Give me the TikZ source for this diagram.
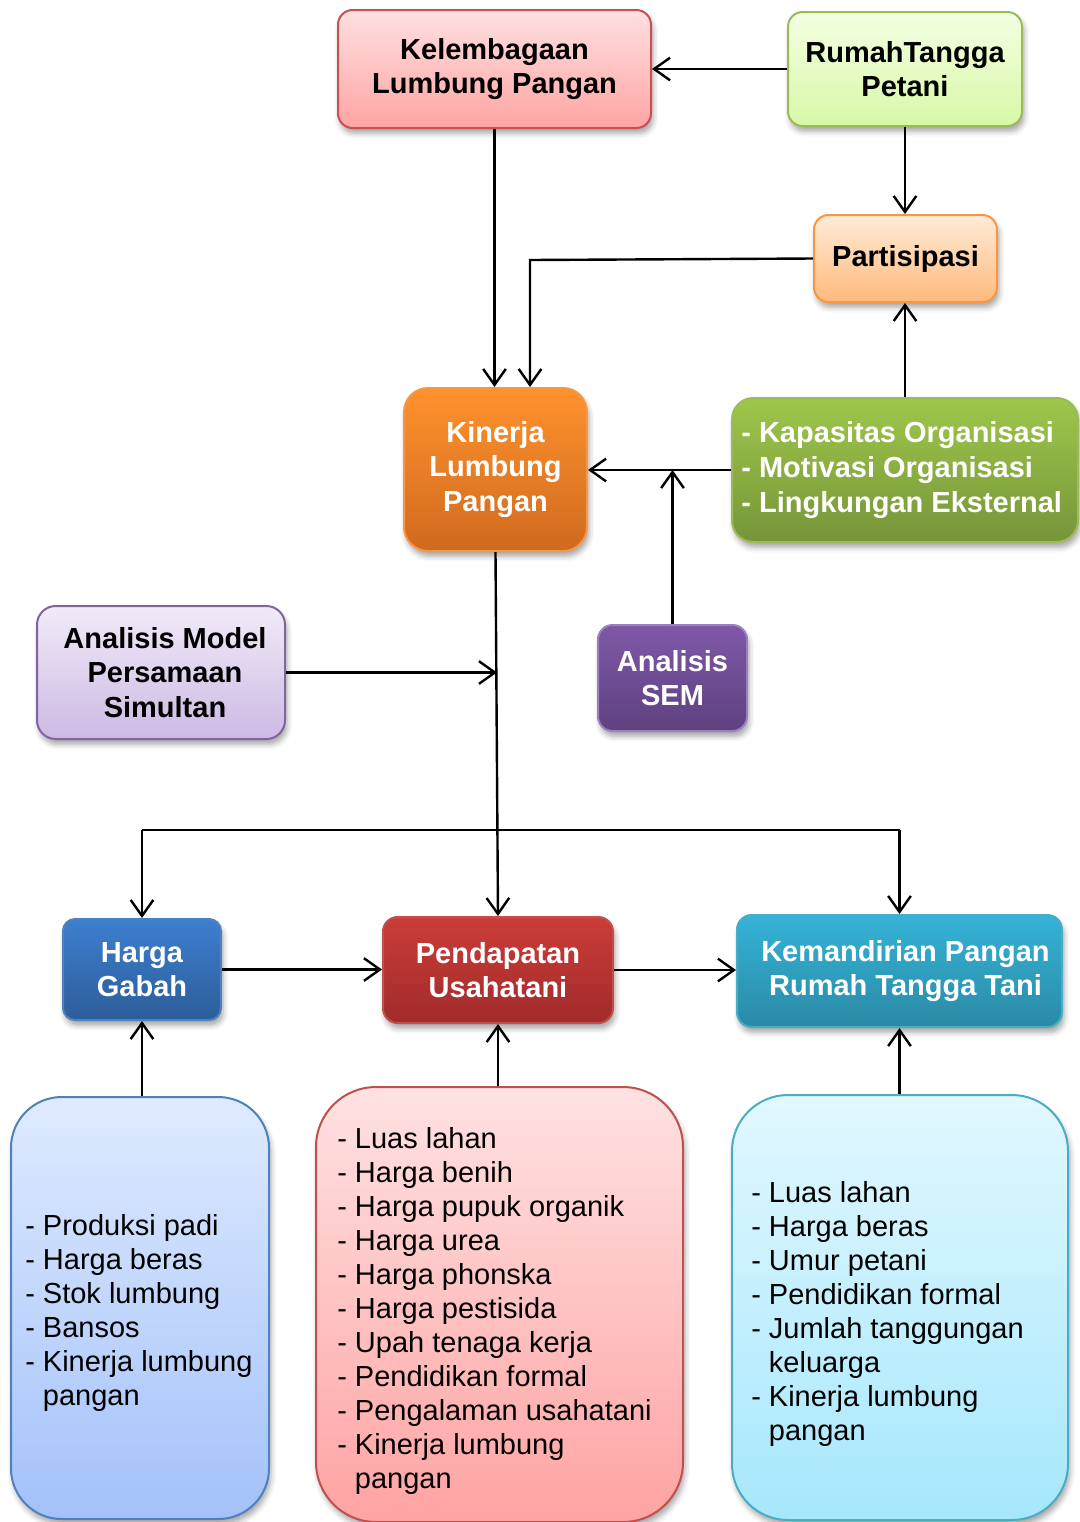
\documentclass[tikz,border=0pt]{standalone}
\usepackage{fontspec}
\setmainfont{Liberation Sans}
\usetikzlibrary{arrows.meta,shadows.blur}

% fills and outlines
\definecolor{kelT}{HTML}{FFE0E0}\definecolor{kelB}{HTML}{FFA4A4}\definecolor{kelD}{HTML}{C9504F}
\definecolor{rtT}{HTML}{F3FFE2}\definecolor{rtB}{HTML}{D8F8A8}\definecolor{rtD}{HTML}{9BBB59}
\definecolor{parT}{HTML}{FFEBD8}\definecolor{parB}{HTML}{FFBA7C}\definecolor{parD}{HTML}{F79646}
\definecolor{kinT}{HTML}{FF922E}\definecolor{kinB}{HTML}{D06A1E}\definecolor{kinD}{HTML}{F79646}
\definecolor{grnT}{HTML}{9EC74B}\definecolor{grnB}{HTML}{76953A}\definecolor{grnD}{HTML}{9BBB59}
\definecolor{amsT}{HTML}{F1EBF8}\definecolor{amsB}{HTML}{CCBAE4}\definecolor{amsD}{HTML}{8064A2}
\definecolor{semT}{HTML}{7F58A8}\definecolor{semB}{HTML}{5E417F}\definecolor{semD}{HTML}{9A80BE}
\definecolor{hgT}{HTML}{3D7FCF}\definecolor{hgB}{HTML}{2C5D99}\definecolor{hgD}{HTML}{4F81BD}
\definecolor{puT}{HTML}{CB3D38}\definecolor{puB}{HTML}{A12B2B}\definecolor{puD}{HTML}{C0504D}
\definecolor{kmT}{HTML}{35B3D7}\definecolor{kmB}{HTML}{2A8AA5}\definecolor{kmD}{HTML}{4BACC6}
\definecolor{lbT}{HTML}{DFEBFF}\definecolor{lbB}{HTML}{A3C1F9}\definecolor{lbD}{HTML}{4F81BD}
\definecolor{lrT}{HTML}{FFE2E2}\definecolor{lrB}{HTML}{FFA3A3}\definecolor{lrD}{HTML}{C0504D}
\definecolor{lcT}{HTML}{E2F8FF}\definecolor{lcB}{HTML}{A6E7FC}\definecolor{lcD}{HTML}{4BACC6}

\begin{document}
\begin{tikzpicture}[x=0.75pt,y=-0.75pt,
  sz/.style 2 args={minimum width=#1*0.75pt, minimum height=#2*0.75pt},
  boxbase/.style={draw, line width=1.5pt, inner sep=0pt, align=center,
    rounded corners=11pt,
    blur shadow={shadow xshift=1.5pt, shadow yshift=-4pt,
      shadow blur radius=4pt, shadow opacity=35}},
  grad/.style n args={3}{top color=#1, bottom color=#2, draw=#3},
  lbl/.style={font=\fontsize{21.75}{26}\selectfont\bfseries},
  lst/.style={font=\fontsize{21.75}{25.5}\selectfont, align=left, inner sep=0pt, anchor=west},
  arr/.style={line width=1.8pt, -{Straight Barb[length=12pt,width=17pt]}},
  ln/.style={line width=1.8pt},
]
\useasboundingbox (0,0) rectangle (1080,1522);

% upper boxes
\node[boxbase, lbl, sz={313}{118}, grad={kelT}{kelB}{kelD}] (kel) at (494.5,69)
  {Kelembagaan\\Lumbung Pangan};
\node[boxbase, lbl, sz={234}{114}, grad={rtT}{rtB}{rtD}] (rt) at (905,69)
  {RumahTangga\\Petani};
\node[boxbase, lbl, sz={183}{87}, grad={parT}{parB}{parD}] (par) at (905.5,258.5)
  {Partisipasi};
\node[boxbase, lbl, text=white, rounded corners=18pt, sz={183}{163}, grad={kinT}{kinB}{kinD}] (kin) at (495.5,469.5)
  {Kinerja\\Lumbung\\Pangan};
\node[boxbase, lbl, text=white, align=left, rounded corners=16pt, sz={346}{144}, grad={grnT}{grnB}{grnD}] (grn) at (905,470)
  {- Kapasitas Organisasi\\- Motivasi Organisasi\\- Lingkungan Eksternal\hspace*{5pt}};
\node[boxbase, lbl, rounded corners=14pt, sz={248}{133}, grad={amsT}{amsB}{amsD}] (ams) at (161,672.5)
  {\hspace*{6pt}Analisis Model\\\hspace*{6pt}Persamaan\\\hspace*{6pt}Simultan};
\node[boxbase, lbl, text=white, sz={149}{106}, grad={semT}{semB}{semD}] (sem) at (672.5,678)
  {Analisis\\SEM};

% middle row
\node[boxbase, lbl, text=white, rounded corners=9pt, sz={158}{101}, grad={hgT}{hgB}{hgD}] (hg) at (142,969.5)
  {Harga\\Gabah};
\node[boxbase, lbl, text=white, sz={230}{106}, grad={puT}{puB}{puD}] (pu) at (498,970)
  {Pendapatan\\Usahatani};
\node[boxbase, lbl, text=white, sz={325}{112}, grad={kmT}{kmB}{kmD}] (km) at (899.5,971)
  {\hspace*{9pt}Kemandirian Pangan\\\hspace*{9pt}Rumah Tangga Tani};

% factor lists
\node[boxbase, rounded corners=38pt, sz={258}{422}, grad={lbT}{lbB}{lbD}] (lb) at (140,1308) {};
\node[boxbase, rounded corners=45pt, sz={367}{435}, grad={lrT}{lrB}{lrD}] (lr) at (499.5,1304.5) {};
\node[boxbase, rounded corners=42pt, sz={336}{425}, grad={lcT}{lcB}{lcD}] (lc) at (900,1307.5) {};

\node[lst] (lbt) at (25,1313) {- Produksi padi\\- Harga beras\\- Stok lumbung\\- Bansos\\- Kinerja lumbung\\\phantom{- }pangan};
\node[lst] (lrt) at (337,1311) {- Luas lahan\\- Harga benih\\- Harga pupuk organik\\- Harga urea\\- Harga phonska\\- Harga pestisida\\- Upah tenaga kerja\\- Pendidikan formal\\- Pengalaman usahatani\\- Kinerja lumbung\\\phantom{- }pangan};
\node[lst] (lct) at (751,1314) {- Luas lahan\\- Harga beras\\- Umur petani\\- Pendidikan formal\\- Jumlah tanggungan\\\phantom{- }keluarga\\- Kinerja lumbung\\\phantom{- }pangan};

% connectors
\draw[arr] (rt.west) -- (kel.east);
\draw[arr] (rt.south) -- (rt.south |- par.north);
\draw[arr] (kel.south) -- (kel.south |- kin.north);
\coordinate (pk) at (530,260);
\draw[arr] (par.west) -- (pk) -- (pk |- kin.north);
\draw[arr] (grn.north) -- (grn.north |- par.south);
\draw[arr] (grn.west) -- (grn.west -| kin.east);
\draw[arr] (sem.north) -- (sem.north |- grn.west);

\coordinate (br) at (497,830);
\draw[arr] (kin.south) -- (pu.north);
\draw[arr] (ams.east) -- (ams.east -| br);
\draw[ln, line join=miter] (hg.north |- br) -- (km.north |- br);
\draw[arr] (hg.north |- br) -- (hg.north);
\draw[arr] (km.north |- br) -- (km.north);

\draw[arr] (hg.east) -- (hg.east -| pu.west);
\draw[arr] (pu.east) -- (pu.east -| km.west);

\draw[arr] (hg.south |- lb.north) -- (hg.south);
\draw[arr] (pu.south |- lr.north) -- (pu.south);
\draw[arr] (km.south |- lc.north) -- (km.south);
\end{tikzpicture}
\end{document}
